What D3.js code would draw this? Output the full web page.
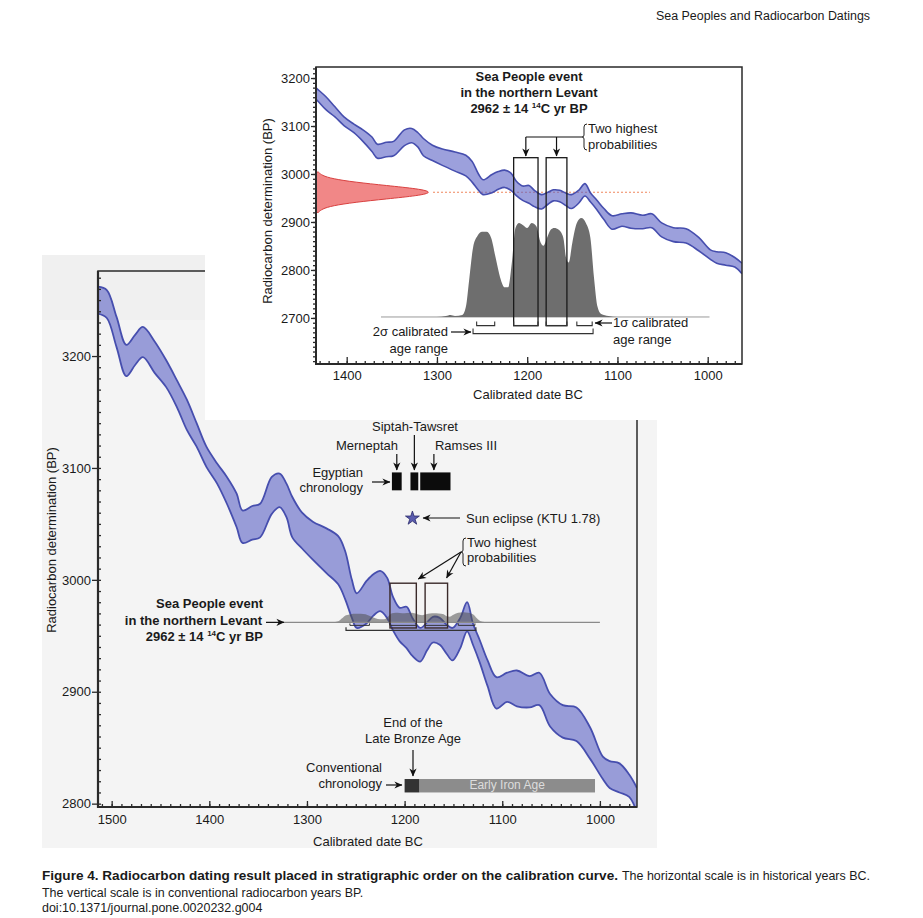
<!DOCTYPE html>
<html>
<head>
<meta charset="utf-8">
<script src="https://cdn.jsdelivr.net/npm/d3@7"></script>
<style>
body { margin: 0; background: #fff; }
svg { display: block; }
text { font-family: "Liberation Sans", Arial, sans-serif; fill: #1a1a1a; }
</style>
</head>
<body>
<svg id="fig" width="923" height="918"></svg>
<script>
// calibration curve (calendar year BC, upper / lower edge in 14C yr BP)
var calYears = [1514,1505,1495,1485,1476,1468,1456,1444,1433,1423,1413,1403,1392,1382,1372,1366,1356,1348,1336,1328,1321,1315,1305,1294,1280,1268,1261,1254,1249,1239,1232,1225,1218,1212,1205,1198,1192,1184,1177,1171,1164,1157,1151,1143,1136,1130,1123,1115,1106,1095,1085,1072,1062,1051,1038,1024,1010,997,990,980,970,962];
var calUpper = [3262,3259,3235,3210,3219,3226,3213,3196,3178,3161,3140,3119,3104,3092,3077,3062,3066,3068,3092,3095,3086,3074,3060,3052,3046,3039,3026,3000,2988,2999,3005,3008,3002,2985,2975,2976,2966,2957,2962,2967,2966,2960,2957,2966,2980,2961,2946,2928,2913,2917,2919,2914,2917,2898,2888,2886,2868,2842,2838,2836,2826,2814];
var calLower = [3238,3234,3208,3182,3192,3199,3185,3172,3154,3134,3119,3101,3086,3068,3047,3033,3036,3038,3059,3065,3056,3038,3028,3018,3006,2996,2983,2966,2957,2961,2968,2972,2966,2955,2945,2939,2932,2927,2937,2944,2942,2934,2928,2939,2954,2942,2926,2905,2885,2891,2887,2886,2888,2869,2859,2856,2840,2822,2814,2810,2806,2792];

// calibrated probability (relative)
var probYears  = [1362,1300,1290,1285,1280,1272,1268,1264,1260,1255,1250,1245,1240,1235,1230,1225,1221,1217,1213,1209,1205,1200,1195,1190,1185,1182,1178,1174,1170,1165,1160,1157,1154,1150,1145,1140,1135,1130,1126,1122,1118,1110,1100,998];
var probValues = [0,0,0.01,0.02,0.01,0.02,0.1,0.4,0.7,0.82,0.86,0.86,0.8,0.6,0.4,0.3,0.3,0.55,0.9,0.95,0.93,0.9,0.95,0.92,0.75,0.72,0.8,0.88,0.9,0.88,0.8,0.6,0.55,0.75,0.95,1,0.95,0.8,0.4,0.1,0.03,0.01,0,0];

// measured date 2962 +- 14, red profile
var measuredBP = 2962;
var redOffsets = [-42,-35,-28,-21,-14,-7,0,7,14,21,28,35,42];
var redDensity = [0.02,0.05,0.14,0.33,0.6,0.88,1,0.88,0.6,0.33,0.14,0.05,0.02];

var highBoxes = [[1215,1188],[1179,1156]];
var sigma1 = [[1256,1236],[1215,1188],[1179,1156],[1145,1128]];
var sigma2 = [[1260,1127]];

var reignNames = ["Merneptah","Siptah-Tawsret","Ramses III"];
var reignStart = [1213,1194,1184];
var reignEnd   = [1203,1186,1153];
var eclipseYear = 1192;

var lbaEnd = [1200,1185];
var earlyIron = [1185,1005];

var mainXTicks = [1500,1400,1300,1200,1100,1000];
var mainYTicks = [2800,2900,3000,3100,3200];
var insetXTicks = [1400,1300,1200,1100,1000];
var insetYTicks = [2700,2800,2900,3000,3100,3200];

var cal = calYears.map(function(d,i){ return {yr:d, hi:calUpper[i], lo:calLower[i]}; });
var prob = probYears.map(function(d,i){ return {yr:d, p:probValues[i]}; });
var FONT = "Liberation Sans, Arial, sans-serif";

var svg = d3.select("#fig");
var defs = svg.append("defs");
defs.append("marker").attr("id","arr")
    .attr("viewBox","0 0 10 10").attr("refX",9.5).attr("refY",5)
    .attr("markerWidth",9).attr("markerHeight",8).attr("markerUnits","userSpaceOnUse")
    .attr("orient","auto")
  .append("path").attr("d","M0,0.5 L10,5 L0,9.5 L3,5 Z").attr("fill","#111");

function arrow(g,x1,y1,x2,y2){
    g.append("line").attr("x1",x1).attr("y1",y1).attr("x2",x2).attr("y2",y2)
        .attr("stroke","#111").attr("stroke-width",1.2).attr("marker-end","url(#arr)");
}
function label(g,x,y,txt,anchor,size,weight){
    return g.append("text").attr("x",x).attr("y",y).attr("text-anchor",anchor||"start")
        .attr("font-size",size||13).attr("font-weight",weight||"normal").text(txt);
}
function brace(g,x,y0,y1){
    var ym=(y0+y1)/2;
    g.append("path").attr("fill","none").attr("stroke","#222").attr("stroke-width",1)
        .attr("d","M"+(x+3)+","+y0+" Q"+x+","+y0+" "+x+","+(y0+3)+" L"+x+","+(ym-2)+" Q"+x+","+ym+" "+(x-2)+","+ym+
                  " Q"+x+","+ym+" "+x+","+(ym+2)+" L"+x+","+(y1-3)+" Q"+x+","+y1+" "+(x+3)+","+y1);
}
function c14(g,x,y,anchor){
    var t=g.append("text").attr("x",x).attr("y",y).attr("text-anchor",anchor).attr("font-size",13).attr("font-weight","bold");
    t.append("tspan").text("2962 \u00b1 14 ");
    t.append("tspan").attr("font-size",8).attr("dy",-5).text("14");
    t.append("tspan").attr("dy",5).text("C yr BP");
}
function band(g,x,y,sw){
    var area=d3.area().x(function(d){return x(d.yr);}).y0(function(d){return y(d.lo);}).y1(function(d){return y(d.hi);}).curve(d3.curveCatmullRom);
    g.append("path").datum(cal).attr("d",area).attr("fill","#5a60c4").attr("fill-opacity",0.6);
    ["hi","lo"].forEach(function(k){
        g.append("path").datum(cal)
            .attr("d",d3.line().x(function(d){return x(d.yr);}).y(function(d){return y(d[k]);}).curve(d3.curveCatmullRom))
            .attr("fill","none").attr("stroke","#464eae").attr("stroke-width",sw);
    });
}
function styleAxis(g){
    g.select(".domain").remove();
    g.attr("font-family",FONT).attr("font-size",13);
    g.selectAll("line").attr("stroke","#2a2a2a").attr("stroke-width",1.3);
    g.selectAll("text").attr("fill","#222");
}

/* ---------- header ---------- */
svg.append("text").attr("x",656).attr("y",20).attr("font-family","Open Sans, sans-serif").attr("font-size",12)
    .attr("textLength",214).attr("lengthAdjust","spacingAndGlyphs").text("Sea Peoples and Radiocarbon Datings");

/* ---------- main chart ---------- */
var M = {left:98, right:637, top:271, bottom:807};
var mx = d3.scaleLinear().domain([1514,962]).range([M.left,M.right]);
var my = d3.scaleLinear().domain([2797,3276]).range([M.bottom,M.top]);

svg.append("rect").attr("x",42).attr("y",255).attr("width",615).attr("height",593).attr("fill","#f4f4f4");
svg.append("rect").attr("x",42).attr("y",255).attr("width",163).attr("height",65).attr("fill","#f0f0f0");

defs.append("clipPath").attr("id","mclip").append("rect")
    .attr("x",M.left).attr("y",M.top).attr("width",M.right-M.left).attr("height",M.bottom-M.top);
var gm = svg.append("g");
var gmc = gm.append("g").attr("clip-path","url(#mclip)");
band(gmc,mx,my,1.8);

var mBase = my(measuredBP);
var mh = d3.scaleLinear().domain([0,1]).range([0,10]);
gmc.append("path").datum(prob)
    .attr("d",d3.area().x(function(d){return mx(d.yr);}).y0(mBase).y1(function(d){return mBase-mh(d.p);}).curve(d3.curveMonotoneX))
    .attr("fill","#505050").attr("fill-opacity",0.55);
gm.append("line").attr("x1",mx(1325)).attr("x2",mx(1000)).attr("y1",mBase).attr("y2",mBase)
    .attr("stroke","#8a8a8a").attr("stroke-width",1.3);

gm.selectAll(".mbox").data(highBoxes).enter().append("rect")
    .attr("x",function(d){return mx(d[0]);}).attr("width",function(d){return mx(d[1])-mx(d[0]);})
    .attr("y",my(2997)).attr("height",my(2957)-my(2997))
    .attr("fill","none").attr("stroke","#3a2a2a").attr("stroke-width",1.4);

gm.selectAll(".ms2").data(sigma2).enter().append("path").attr("fill","none").attr("stroke","#333").attr("stroke-width",1.2)
    .attr("d",function(d){var y=mBase+8;return "M"+mx(d[0])+","+(y-3)+"V"+y+"H"+mx(d[1])+"V"+(y-3);});
gm.selectAll(".ms1").data(sigma1).enter().append("path").attr("fill","none").attr("stroke","#333").attr("stroke-width",1)
    .attr("d",function(d){var y=mBase+3;return "M"+mx(d[0])+","+(y-2)+"V"+y+"H"+mx(d[1])+"V"+(y-2);});

// Egyptian chronology
var ey0 = my(3096), ey1 = my(3080);
gm.selectAll(".reign").data(reignNames).enter().append("rect")
    .attr("x",function(d,i){return mx(reignStart[i]);})
    .attr("width",function(d,i){return mx(reignEnd[i])-mx(reignStart[i]);})
    .attr("y",ey0).attr("height",ey1-ey0).attr("fill","#0c0c0c");
label(gm,415,431,reignNames[1],"middle");
label(gm,367,450,reignNames[0],"middle");
label(gm,466,450,reignNames[2],"middle");
arrow(gm,mx(1208),454,mx(1208),470);
arrow(gm,mx(1190),435,mx(1190),470);
arrow(gm,mx(1170),454,mx(1170),470);
label(gm,363,477,"Egyptian","end");
label(gm,363,492,"chronology","end");
arrow(gm,372,482,390,482);

// eclipse
gm.append("path").attr("d",d3.symbol().type(d3.symbolStar).size(60)())
    .attr("transform","translate("+mx(eclipseYear)+","+my(3055)+")")
    .attr("fill","#5a5cae").attr("stroke","#2a2a6a").attr("stroke-width",0.8);
arrow(gm,460,518,423,518);
label(gm,466,523,"Sun eclipse (KTU 1.78)");

// two highest probabilities
brace(gm,463,538,566);
label(gm,467,547,"Two highest");
label(gm,467,562,"probabilities");
arrow(gm,461,552,mx(1186),579);
arrow(gm,461,552,mx(1157),578);

// sea people label
label(gm,263,608,"Sea People event","end",13,"bold");
label(gm,262,625,"in the northern Levant","end",13,"bold");
c14(gm,263,641,"end");
arrow(gm,266,mBase,284,mBase);

// conventional chronology
var cy0 = my(2822), cy1 = my(2810);
gm.append("rect").attr("x",mx(earlyIron[0])).attr("width",mx(earlyIron[1])-mx(earlyIron[0]))
    .attr("y",cy0).attr("height",cy1-cy0).attr("fill","#8c8c8c");
gm.append("rect").attr("x",mx(lbaEnd[0])).attr("width",mx(lbaEnd[1])-mx(lbaEnd[0]))
    .attr("y",cy0).attr("height",cy1-cy0).attr("fill","#333");
gm.append("text").attr("x",mx((earlyIron[0]+earlyIron[1])/2)).attr("y",789).attr("text-anchor","middle")
    .attr("font-size",12).style("fill","#dcdcdc").text("Early Iron Age");
label(gm,413,727,"End of the","middle");
label(gm,413,743,"Late Bronze Age","middle");
arrow(gm,413,750,413,776);
label(gm,382,772,"Conventional","end");
label(gm,382,788,"chronology","end");
arrow(gm,386,785,402,785);

// main axes
gm.append("g").attr("transform","translate("+M.left+",0)")
    .call(d3.axisLeft(my).tickValues(mainYTicks).tickSize(6).tickPadding(1).tickFormat(d3.format("d"))).call(styleAxis);
gm.append("g").attr("transform","translate("+M.left+",0)")
    .call(d3.axisLeft(my).tickValues(d3.range(2800,3271,10)).tickSize(-3).tickFormat("")).call(styleAxis);
gm.append("g").attr("transform","translate(0,"+M.bottom+")")
    .call(d3.axisBottom(mx).tickValues(mainXTicks).tickSize(-6).tickPadding(8).tickFormat(d3.format("d"))).call(styleAxis);
gm.append("g").attr("transform","translate(0,"+M.bottom+")")
    .call(d3.axisBottom(mx).tickValues(d3.range(970,1511,10)).tickSize(-3).tickFormat("")).call(styleAxis);
gm.append("rect").attr("x",M.left).attr("y",M.top).attr("width",M.right-M.left).attr("height",M.bottom-M.top)
    .attr("fill","none").attr("stroke","#2a2a2a").attr("stroke-width",1.5);
gm.append("path").attr("d","M"+M.left+","+M.top+"V"+M.bottom+"H"+M.right)
    .attr("fill","none").attr("stroke","#2a2a2a").attr("stroke-width",2.2);
gm.append("text").attr("transform","translate(56,540) rotate(-90)").attr("text-anchor","middle")
    .attr("font-size",13).text("Radiocarbon determination (BP)");
label(gm,368,846,"Calibrated date BC","middle");

/* ---------- inset chart ---------- */
svg.append("rect").attr("x",205).attr("y",50).attr("width",665).attr("height",370).attr("fill","#fff");
var I = {left:316, right:742, top:67, bottom:364};
var ix = d3.scaleLinear().domain([1434,962]).range([I.left,I.right]);
var iy = d3.scaleLinear().domain([2604,3223]).range([I.bottom,I.top]);
defs.append("clipPath").attr("id","iclip").append("rect")
    .attr("x",I.left).attr("y",I.top).attr("width",I.right-I.left).attr("height",I.bottom-I.top);
var gi = svg.append("g");
var gic = gi.append("g").attr("clip-path","url(#iclip)");

// measured date profile
var rw = d3.scaleLinear().domain([0,1]).range([0,117]);
var red = redOffsets.map(function(d,i){return {bp:measuredBP+d, w:redDensity[i]};});
gic.append("path").datum(red)
    .attr("d",d3.area().y(function(d){return iy(d.bp);}).x0(I.left).x1(function(d){return I.left+rw(d.w);}).curve(d3.curveBasis))
    .attr("fill","#f07a7a").attr("fill-opacity",0.9).attr("stroke","#d9403f").attr("stroke-width",1);
gic.append("line").attr("x1",I.left+rw(1)).attr("x2",ix(1064)).attr("y1",iy(measuredBP)).attr("y2",iy(measuredBP))
    .attr("stroke","#f0865e").attr("stroke-width",1.2).attr("stroke-dasharray","2,2");

band(gic,ix,iy,1.6);

var iBase = iy(2702);
var ih = d3.scaleLinear().domain([0,1]).range([0,99]);
gi.append("line").attr("x1",ix(1362)).attr("x2",ix(998)).attr("y1",iBase).attr("y2",iBase)
    .attr("stroke","#9a9a9a").attr("stroke-width",1);
gi.append("path").datum(prob)
    .attr("d",d3.area().x(function(d){return ix(d.yr);}).y0(iBase).y1(function(d){return iBase-ih(d.p);}).curve(d3.curveMonotoneX))
    .attr("fill","#6e6e6e");

gi.selectAll(".ibox").data(highBoxes).enter().append("rect")
    .attr("x",function(d){return ix(d[0]);}).attr("width",function(d){return ix(d[1])-ix(d[0]);})
    .attr("y",iy(3034)).attr("height",iy(2684)-iy(3034))
    .attr("fill","none").attr("stroke","#1a1a1a").attr("stroke-width",1.3);
gi.selectAll(".is1").data(sigma1).enter().append("path").attr("fill","none").attr("stroke","#333").attr("stroke-width",1.1)
    .attr("d",function(d){var y=iy(2684);return "M"+ix(d[0])+","+(y-4)+"V"+y+"H"+ix(d[1])+"V"+(y-4);});
gi.selectAll(".is2").data(sigma2).enter().append("path").attr("fill","none").attr("stroke","#333").attr("stroke-width",1.1)
    .attr("d",function(d){var y=iy(2684)+8;return "M"+ix(d[0])+","+(y-5)+"V"+y+"H"+ix(d[1])+"V"+(y-5);});

// inset annotations
label(gi,529,81,"Sea People event","middle",13,"bold");
label(gi,529,97,"in the northern Levant","middle",13,"bold");
c14(gi,529,113,"middle");
var bx1 = ix((highBoxes[0][0]+highBoxes[0][1])/2), bx2 = ix((highBoxes[1][0]+highBoxes[1][1])/2);
gi.append("line").attr("x1",bx1).attr("x2",582).attr("y1",137).attr("y2",137).attr("stroke","#111").attr("stroke-width",1.2);
arrow(gi,bx1,137,bx1,156);
arrow(gi,bx2,137,bx2,156);
brace(gi,584,124,150);
label(gi,588,133,"Two highest");
label(gi,588,149,"probabilities");
label(gi,448,336,"2\u03c3 calibrated","end");
label(gi,448,353,"age range","end");
arrow(gi,451,332,471,332);
arrow(gi,612,323,595,323);
label(gi,613,327,"1\u03c3 calibrated");
label(gi,613,344,"age range");

// inset axes
gi.append("g").attr("transform","translate("+I.left+",0)")
    .call(d3.axisLeft(iy).tickValues(insetYTicks).tickSize(5).tickPadding(1).tickFormat(d3.format("d"))).call(styleAxis);
gi.append("g").attr("transform","translate("+I.left+",0)")
    .call(d3.axisLeft(iy).tickValues(d3.range(2610,3221,10)).tickSize(3).tickFormat("")).call(styleAxis);
gi.append("g").attr("transform","translate(0,"+I.bottom+")")
    .call(d3.axisBottom(ix).tickValues(insetXTicks).tickSize(-7).tickPadding(7).tickFormat(d3.format("d"))).call(styleAxis);
gi.append("g").attr("transform","translate(0,"+I.bottom+")")
    .call(d3.axisBottom(ix).tickValues(d3.range(970,1431,10)).tickSize(-3).tickFormat("")).call(styleAxis);
gi.append("rect").attr("x",I.left).attr("y",I.top).attr("width",I.right-I.left).attr("height",I.bottom-I.top)
    .attr("fill","none").attr("stroke","#2a2a2a").attr("stroke-width",1.5);
gi.append("path").attr("d","M"+I.left+","+I.top+"V"+I.bottom+"H"+I.right)
    .attr("fill","none").attr("stroke","#2a2a2a").attr("stroke-width",2);
gi.append("text").attr("transform","translate(272,211) rotate(-90)").attr("text-anchor","middle")
    .attr("font-size",13).text("Radiocarbon determination (BP)");
label(gi,528,399,"Calibrated date BC","middle");

/* ---------- caption ---------- */
// all regular caption text shares one horizontal squeeze, taken from the first line's regular part
var capFont = "Liberation Sans Narrow, DejaVu Sans Condensed, sans-serif";
function cap(x,y,txt,bold){
    return svg.append("text").attr("x",x).attr("y",y).attr("font-family",capFont).attr("font-size",12.5)
        .attr("font-weight",bold?"bold":"normal").text(txt);
}
var c1b = cap(42,880,"Figure 4. Radiocarbon dating result placed in stratigraphic order on the calibration curve.",true);
c1b.attr("textLength",576).attr("lengthAdjust","spacingAndGlyphs");
var c1n = cap(622,880,"The horizontal scale is in historical years BC.");
var squeeze = 248 / c1n.node().getComputedTextLength();
c1n.attr("textLength",248).attr("lengthAdjust","spacingAndGlyphs");
[cap(42,897,"The vertical scale is in conventional radiocarbon years BP."),
 cap(42,912,"doi:10.1371/journal.pone.0020232.g004")].forEach(function(t){
    t.attr("textLength",t.node().getComputedTextLength()*squeeze).attr("lengthAdjust","spacingAndGlyphs");
});
</script>
</body>
</html>
